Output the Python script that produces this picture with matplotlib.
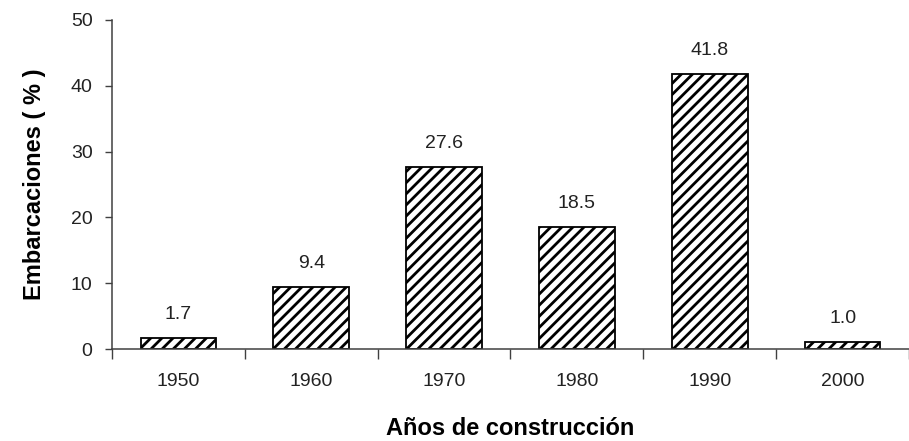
import matplotlib.pyplot as plt
import numpy as np

plt.rcParams['font.family'] = ['Liberation Sans', 'DejaVu Sans']
plt.rcParams['hatch.linewidth'] = 2.0

# datos
decadas = ['1950', '1960', '1970', '1980', '1990', '2000']
porcentaje = [1.7, 9.4, 27.6, 18.5, 41.8, 1.0]

fig = plt.figure(figsize=(9.09, 4.41), dpi=100)
ax = fig.add_axes([112 / 909, 1 - 349 / 441, 1 - 112 / 909, (349 - 20) / 441])

x = np.arange(len(decadas))
ax.bar(x, porcentaje, width=0.57, color='white', edgecolor='black',
       linewidth=1.3, hatch='///')

# etiquetas de valor encima de cada barra
for xi, v in zip(x, porcentaje):
    ax.annotate(f'{v:.1f}', (xi, v), xytext=(0, 11), textcoords='offset points',
                ha='center', va='bottom', fontsize=14, color='#222222')

ax.set_xlim(-0.5, len(decadas) - 0.5)
ax.set_ylim(0, 50)
ax.set_yticks(range(0, 51, 10))

# ticks del eje x entre categorias, etiquetas centradas
ax.set_xticks(np.arange(-0.5, len(decadas), 1.0))
ax.set_xticklabels([])
ax.set_xticks(x, minor=True)
ax.set_xticklabels(decadas, minor=True)
ax.tick_params(axis='x', which='major', direction='out', length=7, width=1, color='#404040')
ax.tick_params(axis='x', which='minor', length=0, pad=17, labelsize=14, labelcolor='#222222')
ax.tick_params(axis='y', direction='out', length=5, width=1, color='#404040',
               pad=9, labelsize=14, labelcolor='#222222')

for s in ['top', 'right']:
    ax.spines[s].set_visible(False)
for s in ['left', 'bottom']:
    ax.spines[s].set_color('#404040')
    ax.spines[s].set_linewidth(1.1)

ax.set_ylabel('Embarcaciones ( % )', fontsize=17, fontweight='bold', labelpad=18)
ax.set_xlabel('Años de construcción', fontsize=17, fontweight='bold', labelpad=20)

fig.savefig('out.png', dpi=100)
